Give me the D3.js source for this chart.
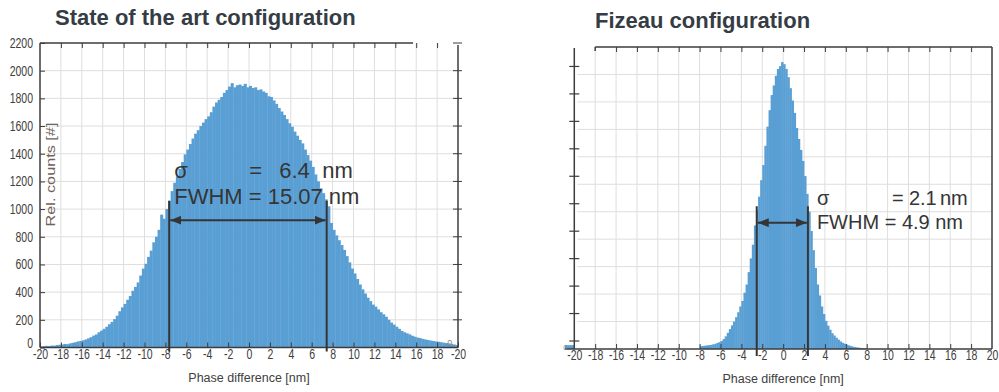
<!DOCTYPE html>
<html>
<head>
<meta charset="utf-8">
<script src="https://cdn.jsdelivr.net/npm/d3@7"></script>
<style>
  html, body { margin: 0; padding: 0; background: #fff; }
  svg { display: block; font-family: "Liberation Sans", Arial, sans-serif; }
</style>
</head>
<body>
<svg id="chart" width="999" height="392"></svg>
<script>
// ---- Phase-difference histograms (counts per bin) ----
// State of the art configuration: bins of 0.25 nm starting at -20 nm
const stateBinStart = -20;
const stateBinWidth = 0.25;
const stateCounts = [
  8, 10, 12, 11,      14, 13, 18, 20,      22, 26, 24, 30,      34, 38, 44, 47,
  52, 58, 66, 75,     86, 94, 110, 122,    135, 150, 168, 185,  205, 230, 262, 290,
  315, 345, 372, 410, 438, 470, 520, 570,  605, 655, 700, 760,  800, 850, 960, 930,
  1000, 1060, 1130, 1190, 1235, 1290, 1340, 1395, 1430, 1470, 1510, 1545, 1570, 1600, 1625, 1650,
  1670, 1700, 1740, 1770, 1790, 1810, 1840, 1860, 1885, 1910, 1880, 1895, 1900, 1890, 1905, 1880,
  1890, 1875, 1880, 1860, 1865, 1850, 1840, 1815, 1810, 1785, 1760, 1730, 1705, 1680, 1650, 1620,
  1595, 1560, 1530, 1500, 1475, 1430, 1390, 1350, 1305, 1250, 1200, 1150, 1115, 1070, 1020, 900,
  850, 810, 775, 740,  705, 660, 615, 570,  535, 495, 455, 420,  390, 360, 335, 310,
  295, 275, 255, 240,  222, 200, 180, 165,  150, 135, 120, 110,  102, 95, 85, 78,
  72, 68, 62, 58,      54, 50, 47, 44,      42, 38, 35, 32,      30, 26, 22, 18
];
const stateSigma = "6.4";
const stateFwhm = 15.07;
const stateCenter = -0.1;

// Fizeau configuration: bins of 0.2 nm starting at -8 nm
const fizeauBinStart = -8;
const fizeauBinWidth = 0.2;
const fizeauCounts = [
  20, 22, 24, 26, 28,        30, 34, 38, 44, 50,
  58, 72, 92, 118, 145,      172, 200, 232, 268, 310,
  350, 410, 470, 560, 660,   760, 900, 1010, 1110, 1230,
  1340, 1480, 1620, 1740, 1850,  1920, 1990, 2040, 2060, 2090,
  2075, 2040, 1980, 1900, 1810,  1720, 1610, 1530, 1450, 1370,
  1260, 1130, 1000, 860, 720,    590, 470, 390, 310, 255,
  205, 170, 140, 115, 98,        82, 68, 55, 45, 38,
  32, 26, 21, 17, 14,            11, 9, 7, 5, 4
];
// a lone bin left of the axis
const fizeauStray = [{ x0: -20.9, x1: -20, n: 28 }];
const fizeauSigma = "2.1";
const fizeauFwhm = 4.9;
const fizeauCenter = -0.08;

// ---- Axis ticks ----
const phaseTicks = [-20, -18, -16, -14, -12, -10, -8, -6, -4, -2, 0, 2, 4, 6, 8, 10, 12, 14, 16, 18, 20];
const phaseLabelsState = ["-20", "-18", "-16", "-14", "-12", "-10", "-8", "-6", "-4", "-2", "0", "2", "4", "6", "8", "10", "12", "14", "16", "18", "-20"];
const phaseLabelsFizeau = ["-20", "-18", "-16", "-14", "-12", "-10", "-8", "-6", "-4", "-2", "0", "2", "4", "6", "8", "10", "12", "14", "16", "18", "20"];
const innerPhase = [-18, -16, -14, -12, -10, -8, -6, -4, -2, 0, 2, 4, 6, 8, 10, 12, 14, 16, 18];
const countTicks = [0, 200, 400, 600, 800, 1000, 1200, 1400, 1600, 1800, 2000, 2200];
const innerCounts = [200, 400, 600, 800, 1000, 1200, 1400, 1600, 1800, 2000];

const barColor = "#5a9fd4";
const gridColor = "#dedede";
const frameColor = "#3c3c3c";
const labelColor = "#404040";
const annoColor = "#353535";
const FONT = "'Liberation Sans', Arial, sans-serif";
// tick labels are set tall and narrow
const TICK_FONT = 14, TICK_SQUEEZE = 0.75;

const svg = d3.select("#chart");
svg.append("rect").attr("width", 999).attr("height", 392).attr("fill", "#fff");

const defs = svg.append("defs");
defs.append("marker")
  .attr("id", "arrowHead")
  .attr("viewBox", "0 0 10 8")
  .attr("refX", 10).attr("refY", 4)
  .attr("markerWidth", 11).attr("markerHeight", 9)
  .attr("markerUnits", "userSpaceOnUse")
  .attr("orient", "auto-start-reverse")
  .append("path").attr("d", "M0,0 L10,4 L0,8 Z").attr("fill", annoColor);

function styleAxis(g) {
  g.select(".domain").remove();
  g.selectAll(".tick line").attr("stroke", frameColor).attr("stroke-width", 1);
  g.selectAll(".tick text").attr("fill", labelColor).attr("font-size", TICK_FONT)
    .attr("font-family", FONT)
    .attr("transform", `scale(${TICK_SQUEEZE},1)`);
}

function drawBars(g, x, y, counts, start, width) {
  g.append("g").selectAll("rect")
    .data(counts)
    .join("rect")
    .attr("x", (d, i) => x(start + i * width))
    .attr("width", (d, i) => x(start + (i + 1) * width) - x(start + i * width) + 0.4)
    .attr("y", d => y(d))
    .attr("height", d => y(0) - y(d))
    .attr("fill", barColor);
}

function drawGrid(g, x, y, xVals, yVals, xFrom, xTo) {
  g.append("g").selectAll("line")
    .data(xVals)
    .join("line")
    .attr("x1", d => x(d)).attr("x2", d => x(d))
    .attr("y1", y(2200)).attr("y2", y(0))
    .attr("stroke", gridColor).attr("stroke-width", 1);
  g.append("g").selectAll("line")
    .data(yVals)
    .join("line")
    .attr("x1", xFrom).attr("x2", xTo)
    .attr("y1", d => y(d)).attr("y2", d => y(d))
    .attr("stroke", gridColor).attr("stroke-width", 1);
}

function drawFwhm(g, x, y, center, fwhm, topCount, arrowCount, below) {
  const a = center - fwhm / 2, b = center + fwhm / 2;
  g.append("g").selectAll("line")
    .data([a, b])
    .join("line")
    .attr("x1", d => x(d)).attr("x2", d => x(d))
    .attr("y1", y(topCount)).attr("y2", y(0) + below)
    .attr("stroke", annoColor).attr("stroke-width", 2);
  g.append("line")
    .attr("x1", x(a) + 1).attr("x2", x(b) - 1)
    .attr("y1", y(arrowCount)).attr("y2", y(arrowCount))
    .attr("stroke", annoColor).attr("stroke-width", 2)
    .attr("marker-start", "url(#arrowHead)")
    .attr("marker-end", "url(#arrowHead)");
}

function drawStats(g, x0, yBase, fontSize, pieces, fwhmText) {
  const t = g.append("g").attr("fill", annoColor).attr("font-size", fontSize)
    .attr("font-family", FONT);
  pieces.forEach(p => {
    t.append("text").attr("x", x0 + p.dx).attr("y", yBase).text(p.s);
  });
  t.append("text").attr("x", x0).attr("y", yBase + fontSize * 1.18).text(fwhmText);
}

function axisTitle(g, x, y, text) {
  g.append("text")
    .attr("x", x).attr("y", y)
    .attr("text-anchor", "middle").attr("font-size", 12.5).attr("fill", labelColor)
    .text(text);
}

// ================= State of the art configuration =================
const xL = d3.scaleLinear().domain([-20, 20]).range([40, 458]);
const yL = d3.scaleLinear().domain([0, 2200]).range([347.5, 43]);
const gL = svg.append("g");

svg.append("text")
  .attr("x", 55).attr("y", 25)
  .attr("font-size", 22).attr("font-weight", "bold").attr("fill", "#353c44")
  .text("State of the art configuration");

drawGrid(gL, xL, yL, innerPhase, innerCounts, xL(-20), xL(20));
drawBars(gL, xL, yL, stateCounts, stateBinStart, stateBinWidth);

// frame
gL.append("line").attr("x1", xL(-20)).attr("x2", xL(-20)).attr("y1", yL(2200)).attr("y2", yL(0))
  .attr("stroke", frameColor).attr("stroke-width", 1.5);
gL.append("line").attr("x1", xL(-20)).attr("x2", xL(15.7)).attr("y1", yL(2200)).attr("y2", yL(2200))
  .attr("stroke", frameColor).attr("stroke-width", 1.5);
gL.append("line").attr("x1", xL(-20)).attr("x2", xL(20)).attr("y1", yL(0)).attr("y2", yL(0))
  .attr("stroke", frameColor).attr("stroke-width", 1.5);
gL.append("line").attr("x1", xL(20)).attr("x2", xL(20)).attr("y1", yL(2200) + 2).attr("y2", yL(0))
  .attr("stroke", frameColor).attr("stroke-width", 1.5);
// ticks crossing the right edge
gL.append("g").selectAll("line")
  .data(innerCounts.concat([2200]))
  .join("line")
  .attr("x1", xL(20) - 5).attr("x2", xL(20) + 4)
  .attr("y1", d => yL(d)).attr("y2", d => yL(d))
  .attr("stroke", frameColor).attr("stroke-width", 1);

const axBL = gL.append("g").attr("transform", `translate(0,${yL(0)})`)
  .call(d3.axisBottom(xL).tickValues(phaseTicks)
    .tickFormat((d, i) => phaseLabelsState[i])
    .tickSizeInner(-5).tickSizeOuter(0).tickPadding(2));
styleAxis(axBL);
const axTL = gL.append("g").attr("transform", `translate(0,${yL(2200)})`)
  .call(d3.axisTop(xL).tickValues(innerPhase).tickFormat("")
    .tickSizeInner(-5).tickSizeOuter(0));
styleAxis(axTL);
const axLL = gL.append("g").attr("transform", `translate(${xL(-20)},0)`)
  .call(d3.axisLeft(yL).tickValues(countTicks).tickFormat(d3.format("d"))
    .tickSizeInner(-5).tickSizeOuter(0));
styleAxis(axLL);
axLL.selectAll(".tick text").attr("x", -7 / TICK_SQUEEZE);
axLL.selectAll(".tick").filter(d => d === 0).select("text").attr("y", -4);

gL.append("text").attr("x", xL(19.2)).attr("y", yL(0) - 2)
  .attr("font-size", 9).attr("fill", "#8a8a8a").attr("text-anchor", "middle").text("0");

gL.append("text")
  .attr("transform", `translate(${xL(-19)},${yL(1250)}) rotate(-90) scale(1.3,1)`)
  .attr("text-anchor", "middle").attr("dy", "0.35em")
  .attr("font-size", 12.5).attr("fill", "#6f6259")
  .text("Rel. counts [#]");

axisTitle(gL, xL(0), 382, "Phase difference [nm]");

drawFwhm(gL, xL, yL, stateCenter, stateFwhm, 1060, 920, 4);
drawStats(gL, xL(stateCenter - stateFwhm / 2) + 5, 178, 22,
  [{ s: "σ", dx: 0 }, { s: "=", dx: 75 }, { s: stateSigma, dx: 105 }, { s: "nm", dx: 148 }],
  `FWHM = ${stateFwhm.toFixed(2)} nm`);

// ================= Fizeau configuration =================
const xR = d3.scaleLinear().domain([-20, 20]).range([574.3, 992]);
const yR = d3.scaleLinear().domain([0, 2200]).range([349, 47]);
const gR = svg.append("g");

svg.append("text")
  .attr("x", 595).attr("y", 28)
  .attr("font-size", 22).attr("font-weight", "bold").attr("fill", "#353c44")
  .text("Fizeau configuration");

drawGrid(gR, xR, yR, innerPhase, innerCounts, xR(-20) + 3, xR(20));
drawBars(gR, xR, yR, fizeauCounts, fizeauBinStart, fizeauBinWidth);
gR.append("g").selectAll("rect")
  .data(fizeauStray)
  .join("rect")
  .attr("x", d => xR(d.x0)).attr("width", d => xR(d.x1) - xR(d.x0))
  .attr("y", d => yR(d.n)).attr("height", d => yR(0) - yR(d.n))
  .attr("fill", barColor);

// frame
gR.append("line").attr("x1", xR(-18)).attr("x2", xR(20)).attr("y1", yR(2200)).attr("y2", yR(2200))
  .attr("stroke", frameColor).attr("stroke-width", 1.5);
gR.append("line").attr("x1", xR(-18)).attr("x2", xR(-18)).attr("y1", yR(2200)).attr("y2", yR(2200) + 4)
  .attr("stroke", frameColor).attr("stroke-width", 1.5);
gR.append("line").attr("x1", xR(20)).attr("x2", xR(20)).attr("y1", yR(2200)).attr("y2", yR(0))
  .attr("stroke", frameColor).attr("stroke-width", 1.5);
gR.append("line").attr("x1", xR(-20.9)).attr("x2", xR(20)).attr("y1", yR(0)).attr("y2", yR(0))
  .attr("stroke", frameColor).attr("stroke-width", 1.5);
gR.append("line").attr("x1", xR(-20)).attr("x2", xR(-20)).attr("y1", yR(2200) + 1).attr("y2", yR(0))
  .attr("stroke", frameColor).attr("stroke-width", 1.5);
// ticks crossing the left axis (sit a little above the grid)
gR.append("g").selectAll("line")
  .data([0].concat(innerCounts))
  .join("line")
  .attr("x1", xR(-20) - 5).attr("x2", xR(-20) + 5)
  .attr("y1", d => yR(d) - 8).attr("y2", d => yR(d) - 8)
  .attr("stroke", frameColor).attr("stroke-width", 1.2);

const axBR = gR.append("g").attr("transform", `translate(0,${yR(0)})`)
  .call(d3.axisBottom(xR).tickValues(phaseTicks)
    .tickFormat((d, i) => phaseLabelsFizeau[i])
    .tickSizeInner(-5).tickSizeOuter(0).tickPadding(1));
styleAxis(axBR);
axBR.selectAll(".tick").filter(d => d === -20 || d === 20).select("line").remove();
const axTR = gR.append("g").attr("transform", `translate(0,${yR(2200)})`)
  .call(d3.axisTop(xR).tickValues(innerPhase.slice(1)).tickFormat("")
    .tickSizeInner(-5).tickSizeOuter(0));
styleAxis(axTR);

gR.append("text").attr("x", xR(-20.85)).attr("y", yR(0) + 1)
  .attr("font-size", 7.5).attr("fill", "#8a8a8a").attr("text-anchor", "middle").text("0");

axisTitle(gR, xR(0), 383, "Phase difference [nm]");

drawFwhm(gR, xR, yR, fizeauCenter, fizeauFwhm, 1040, 920, 7);
drawStats(gR, xR(fizeauCenter + fizeauFwhm / 2) + 9, 205, 20,
  [{ s: "σ", dx: 0 }, { s: "=", dx: 75 }, { s: fizeauSigma, dx: 92 }, { s: "nm", dx: 123 }],
  `FWHM = ${fizeauFwhm.toFixed(1)} nm`);
</script>
</body>
</html>
